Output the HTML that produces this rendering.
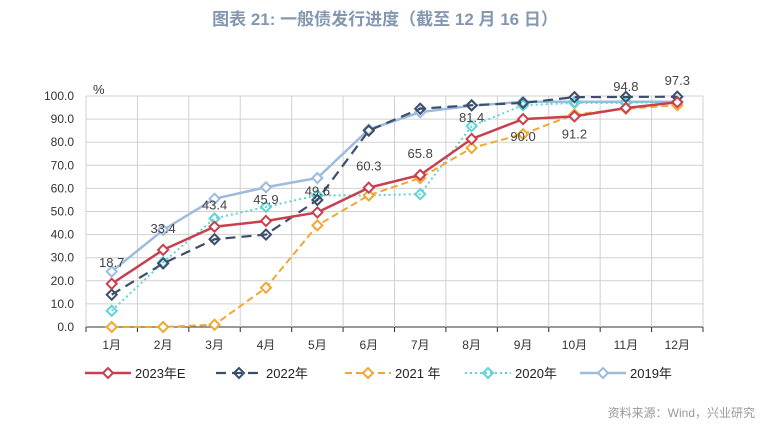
<!DOCTYPE html>
<html><head><meta charset="utf-8"><style>
body{margin:0;width:771px;height:440px;background:#fff;font-family:"Liberation Sans","Noto Sans CJK SC",sans-serif;overflow:hidden}
</style></head><body>
<svg width="771" height="440" style="font-family:'Liberation Sans','Noto Sans CJK SC',sans-serif">
<text x="385" y="25" text-anchor="middle" font-size="17" font-weight="bold" fill="#8497b0">图表 21: 一般债发行进度（截至 12 月 16 日）</text>
<g id="grid"></g><g id="series"></g><g id="labels"></g>
<text x="93" y="94" font-size="13" fill="#333">%</text>
<g id="legend"></g>
<text x="755" y="417" text-anchor="end" font-size="12" fill="#999">资料来源：Wind，兴业研究</text>
</svg>
<script>
const months=["1月","2月","3月","4月","5月","6月","7月","8月","9月","10月","11月","12月"];
const yTicks=[0,10,20,30,40,50,60,70,80,90,100];
const s2023=[18.7,33.4,43.4,45.9,49.6,60.3,65.8,81.4,90.0,91.2,94.8,97.3];
const s2022=[14,27.5,38,40,55,85,94.5,96,97,99.5,99.6,99.7];
const s2021=[0,0,1,17,44,57,64.5,77.5,83.5,92,94.5,96];
const s2020=[7,28,47,52,57,57,57.5,87,96,97,97,97.5];
const s2019=[24,42,55.5,60.5,64.5,85.5,93,95.8,97.5,97.5,97.5,97.5];
const labelBelow=[false,false,false,false,false,false,false,false,true,true,false,false];
const NS="http://www.w3.org/2000/svg";
const L=86,R=703,T=96,B=327;
const bw=(R-L)/months.length;
const x=i=>L+bw*(i+0.5);
const y=v=>B-(v/100)*(B-T);
function mk(tag,attrs,parent){const e=document.createElementNS(NS,tag);for(const k in attrs)e.setAttribute(k,attrs[k]);parent.appendChild(e);return e;}
const grid=document.getElementById('grid');
yTicks.forEach(v=>{
 const ln=mk('line',{x1:L,x2:R,y1:y(v),y2:y(v),stroke:v===0?'#333':'#d0d0d0','stroke-width':1},grid);
 
 
 const t=mk('text',{x:L-12,y:y(v)+4,'text-anchor':'end','font-size':12,fill:'#333'},grid);
 t.textContent=v.toFixed(1);
 
 
});
mk('line',{x1:L,x2:L,y1:T,y2:B,stroke:'#333'},grid);
for(let i=0;i<=months.length;i++){
 const gx=L+bw*i;
 const g=mk('line',{x1:gx,x2:gx,y1:T,y2:B+5,stroke:'#d0d0d0'},grid);
 
 
 mk('line',{x1:gx,x2:gx,y1:B,y2:B+5,stroke:'#333'},grid);
}
months.forEach((m,i)=>{
 const t=mk('text',{x:x(i),y:B+22,'text-anchor':'middle','font-size':12,fill:'#333'},grid);
 t.textContent=m;
 
 
});
const defs=[
 {d:s2019,c:'#9dbbdc',dash:'',w:2.5,n:'2019年',name:'series-2019',mark:true},
 {d:s2020,c:'#5fd3d6',dash:'2,3',w:2,n:'2020年',name:'series-2020',mark:false},
 {d:s2021,c:'#f0a830',dash:'7,4',w:2,n:'2021 年',name:'series-2021',mark:true},
 {d:s2022,c:'#3b4e6b',dash:'10,6',w:2.2,n:'2022年',name:'series-2022',mark:false},
 {d:s2023,c:'#c8404e',dash:'',w:2.5,n:'2023年E',name:'series-2023e',mark:true}
];
const sg=document.getElementById('series');
defs.forEach(s=>{
 const g=mk('g',{},sg);
 
 
 mk('polyline',{points:s.d.map((v,i)=>x(i)+','+y(v)).join(' '),fill:'none',stroke:s.c,'stroke-width':s.w,'stroke-dasharray':s.dash},g);
 s.d.forEach((v,i)=>{
  const p=mk('path',{d:`M${x(i)-5},${y(v)} L${x(i)},${y(v)-5} L${x(i)+5},${y(v)} L${x(i)},${y(v)+5}Z`,fill:'#fff',stroke:s.c,'stroke-width':2},g);
  if(!s.mark)p.setAttribute('fill','none');
  
  
 });
});
const lg=document.getElementById('labels');
s2023.forEach((v,i)=>{
 const t=mk('text',{x:x(i),y:labelBelow[i]?y(v)+22:y(v)-17,'text-anchor':'middle','font-size':13,fill:'#444'},lg);
 t.textContent=v.toFixed(1);
 
 
});
const leg=document.getElementById('legend');
const order=[4,3,2,1,0];const lx=[85,216,345,465,580];
order.forEach((k,j)=>{
 const s=defs[k];const g=mk('g',{},leg);
 
 
 mk('line',{x1:lx[j],x2:lx[j]+46,y1:373,y2:373,stroke:s.c,'stroke-width':s.w,'stroke-dasharray':s.dash},g);
 mk('path',{d:`M${lx[j]+18},373 L${lx[j]+23},368 L${lx[j]+28},373 L${lx[j]+23},378Z`,fill:s.mark?'#fff':'none',stroke:s.c,'stroke-width':2},g);
 const t=mk('text',{x:lx[j]+50,y:378,'font-size':13,fill:'#222'},g);t.textContent=s.n;
});
</script>
</body></html>
